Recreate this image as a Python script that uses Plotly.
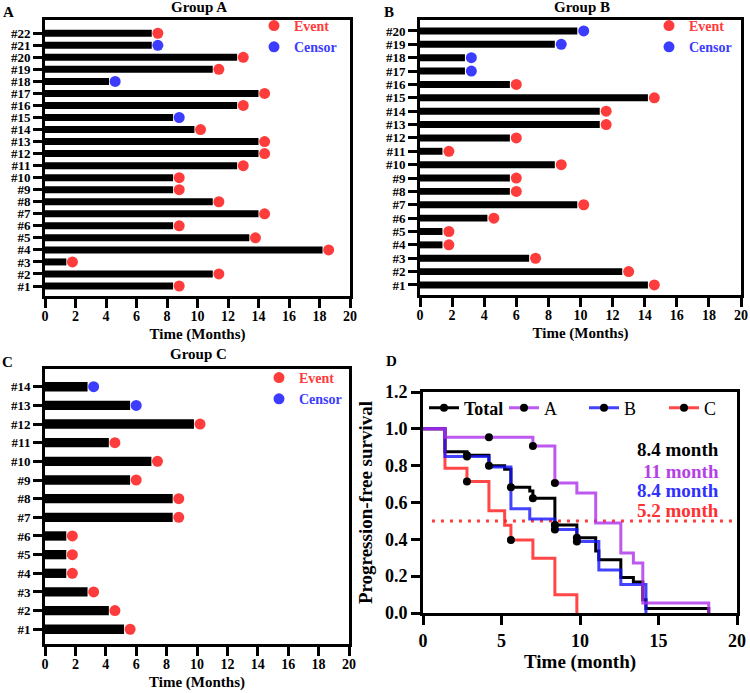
import plotly.graph_objects as go

# ---------------- data ----------------
# swimmer data, patient #1 .. #N ; EVENT: 1 = progression event, 0 = censored
A_TIME = [8.4, 11.0, 1.4, 18.2, 13.4, 8.4, 14.0, 11.0, 8.4, 8.4, 12.6,
          14.0, 14.0, 9.8, 8.4, 12.6, 14.0, 4.2, 11.0, 12.6, 7.0, 7.0]
A_EVENT = [1, 1, 1, 1, 1, 1, 1, 1, 1, 1, 1,
           1, 1, 1, 0, 1, 1, 0, 1, 1, 0, 1]
B_TIME = [14.2, 12.6, 6.8, 1.4, 1.4, 4.2, 9.8, 5.6, 5.6, 8.4,
          1.4, 5.6, 11.2, 11.2, 14.2, 5.6, 2.8, 2.8, 8.4, 9.8]
B_EVENT = [1, 1, 1, 1, 1, 1, 1, 1, 1, 1,
           1, 1, 1, 1, 1, 1, 0, 0, 0, 0]
C_TIME = [5.2, 4.2, 2.8, 1.4, 1.4, 1.4, 8.4, 8.4, 5.6, 7.0, 4.2, 9.8, 5.6, 2.8]
C_EVENT = [1, 1, 1, 1, 1, 1, 1, 1, 1, 1, 1, 1, 0, 0]

X_TICKS_SWIM = list(range(0, 21, 2))
X_TICKS_KM = [0, 5, 10, 15, 20]
Y_TICKS_KM = [0.0, 0.2, 0.4, 0.6, 0.8, 1.0, 1.2]
MEDIAN_LEVEL = 0.5

# ---------------- style ----------------
SERIF = "Liberation Serif"
RED = "#ff3c3c"
BLUE = "#3c3cff"
KM_COLORS = {"Total": "rgba(0,0,0,1)", "A": "rgba(172,48,235,0.8)",
             "B": "rgba(20,20,255,0.8)", "C": "rgba(255,25,25,0.8)"}
TEXT_COLORS = {"Total": "#000000", "A": "#b540e6", "B": "#3030ff", "C": "#ff3030"}
DOT_OFFSET = 0.4  # event dot sits just past the bar end (months)

W, H = 750, 693


def px_x(p):
    return p / W


def px_y(p):
    return 1 - p / H


def km(times, events):
    ts, ss, ct, cs = [0.0], [1.0], [], []
    s = 1.0
    for t in sorted(set(times)):
        d = sum(1 for ti, ei in zip(times, events) if ti == t and ei == 1)
        c = sum(1 for ti, ei in zip(times, events) if ti == t and ei == 0)
        n = sum(1 for ti in times if ti >= t)
        if d:
            s *= (n - d) / n
            ts.append(t)
            ss.append(s)
        if c:
            ct.append(t)
            cs.append(s)
    if ts[-1] < max(times):
        ts.append(max(times))
        ss.append(s)
    return ts, ss, ct, cs


def median_of(ts, ss):
    for t, s in zip(ts, ss):
        if s <= 0.5:
            return t
    return None


fig = go.Figure()

axis_common = dict(showline=True, linewidth=3, linecolor="black", mirror=True,
                   ticks="outside", ticklen=9, tickwidth=3, tickcolor="black",
                   showgrid=False, zeroline=False, automargin=False,
                   tickfont=dict(family=SERIF, size=14, color="black", weight="bold"))

swim = [
    (A_TIME, A_EVENT, "x", "y", "legend", 0.58, [px_x(45), px_x(350)], [px_y(296), px_y(20)], [0.17, 23.1]),
    (B_TIME, B_EVENT, "x2", "y2", "legend2", 0.52, [px_x(420), px_x(741)], [px_y(295), px_y(20)], [0.25, 20.82]),
    (C_TIME, C_EVENT, "x3", "y3", "legend3", 0.5, [px_x(45), px_x(349)], [px_y(644), px_y(369)], [0.21, 14.95]),
]

layout_axes = {}
for i, (times, events, xa, ya, lg, bw, xd, yd, yr) in enumerate(swim):
    ids = list(range(1, len(times) + 1))
    fig.add_trace(go.Bar(x=times, y=ids, orientation="h", width=bw,
                         marker=dict(color="black", line=dict(width=0)),
                         xaxis=xa, yaxis=ya, showlegend=False, hoverinfo="x+y"))
    ev_x = [t + DOT_OFFSET for t, e in zip(times, events) if e == 1]
    ev_y = [k for k, e in zip(ids, events) if e == 1]
    ce_x = [t + DOT_OFFSET for t, e in zip(times, events) if e == 0]
    ce_y = [k for k, e in zip(ids, events) if e == 0]
    fig.add_trace(go.Scatter(x=ev_x, y=ev_y, mode="markers", xaxis=xa, yaxis=ya,
                             marker=dict(color=RED, size=11), cliponaxis=False,
                             name=f"<span style='color:{RED}'>Event</span>", legend=lg))
    fig.add_trace(go.Scatter(x=ce_x, y=ce_y, mode="markers", xaxis=xa, yaxis=ya,
                             marker=dict(color=BLUE, size=11), cliponaxis=False,
                             name=f"<span style='color:{BLUE}'>Censor</span>", legend=lg))
    suffix = "" if i == 0 else str(i + 1)
    layout_axes["xaxis" + suffix] = dict(axis_common, domain=xd, range=[0, 20], tickvals=X_TICKS_SWIM,
                                         anchor=ya, ticklabelstandoff=-4,
                                         title=dict(text="Time (Months)", standoff=6,
                                                    font=dict(family=SERIF, size=15, color="black", weight="bold")))
    layout_axes["yaxis" + suffix] = dict(axis_common, domain=yd, range=yr, tickvals=ids,
                                         ticktext=[f"#{k}" for k in ids], anchor=xa,
                                         tickfont=dict(family=SERIF, size=13, color="black", weight="bold"))

# ---------------- Kaplan-Meier panel ----------------
groups = {"Total": (A_TIME + B_TIME + C_TIME, A_EVENT + B_EVENT + C_EVENT),
          "A": (A_TIME, A_EVENT), "B": (B_TIME, B_EVENT), "C": (C_TIME, C_EVENT)}
km_res = {k: km(*v) for k, v in groups.items()}

fig.add_shape(type="line", xref="x4", yref="y4", x0=0.57, x1=20, y0=MEDIAN_LEVEL, y1=MEDIAN_LEVEL,
              line=dict(color=RED, width=3, dash="3px,6px"), layer="below")

for k in ["Total", "C", "B", "A"]:
    ts, ss, _, _ = km_res[k]
    fig.add_trace(go.Scatter(x=ts, y=ss, mode="lines", line=dict(color=KM_COLORS[k], width=3, shape="hv"),
                             xaxis="x4", yaxis="y4", showlegend=False, cliponaxis=False))
for k in ["Total", "A", "B", "C"]:
    _, _, ct, cs = km_res[k]
    fig.add_trace(go.Scatter(x=ct, y=cs, mode="markers", marker=dict(color="black", size=8),
                             xaxis="x4", yaxis="y4", showlegend=False, cliponaxis=False))
# legend entries for KM panel
for k in ["Total", "A", "B", "C"]:
    fig.add_trace(go.Scatter(x=[None], y=[None], mode="lines+markers",
                             line=dict(color=KM_COLORS[k], width=3), marker=dict(color="black", size=8),
                             name=("<b>Total</b>" if k == "Total" else k), legend="legend4",
                             xaxis="x4", yaxis="y4"))

layout_axes["xaxis4"] = dict(axis_common, domain=[px_x(423), px_x(737)], range=[0, 20], tickvals=X_TICKS_KM,
                             anchor="y4", tickfont=dict(family=SERIF, size=18, color="black", weight="bold"),
                             title=dict(text="Time (month)", standoff=6,
                                        font=dict(family=SERIF, size=19, color="black", weight="bold")))
layout_axes["yaxis4"] = dict(axis_common, domain=[px_y(613), px_y(392)], range=[0, 1.2], tickvals=Y_TICKS_KM,
                             tickformat=".1f", anchor="x4",
                             tickfont=dict(family=SERIF, size=18, color="black", weight="bold"),
                             title=dict(text="Progression-free survival", standoff=8,
                                        font=dict(family=SERIF, size=19, color="black", weight="bold")))

annotations = []
# median labels
label_y = [0.886, 0.766, 0.663, 0.559]
for k, yv in zip(["Total", "A", "B", "C"], label_y):
    ts, ss, _, _ = km_res[k]
    m = median_of(ts, ss)
    annotations.append(dict(x=18.95, y=yv, xref="x4", yref="y4", xanchor="right", yanchor="middle",
                            text=f"{m:g} month", showarrow=False,
                            font=dict(family=SERIF, size=19, color=TEXT_COLORS[k], weight="bold")))
# panel letters and titles
for txt, x, y in [("A", 8, 12), ("B", 389, 12), ("C", 7, 362), ("D", 392, 361)]:
    annotations.append(dict(x=px_x(x), y=px_y(y), xref="paper", yref="paper", text=txt, showarrow=False,
                            xanchor="center", yanchor="middle",
                            font=dict(family=SERIF, size=15, color="black", weight="bold")))
for g, x, y in [("A", 199, 7), ("B", 582, 7), ("C", 198, 354)]:
    annotations.append(dict(x=px_x(x), y=px_y(y), xref="paper", yref="paper", text=f"Group {g}",
                            showarrow=False, xanchor="center", yanchor="middle",
                            font=dict(family=SERIF, size=15, color="black", weight="bold")))

leg_font = dict(family=SERIF, size=14, color="black", weight="bold")
fig.update_layout(
    template="none",
    width=W, height=H, margin=dict(l=0, r=0, t=0, b=0, autoexpand=False),
    paper_bgcolor="white", plot_bgcolor="white",
    annotations=annotations,
    legend=dict(x=px_x(254), y=px_y(10), xanchor="left", yanchor="top", font=leg_font,
                bgcolor="rgba(0,0,0,0)"),
    legend2=dict(x=px_x(649), y=px_y(10), xanchor="left", yanchor="top", font=leg_font,
                 bgcolor="rgba(0,0,0,0)"),
    legend3=dict(x=px_x(259), y=px_y(362), xanchor="left", yanchor="top", font=leg_font,
                 bgcolor="rgba(0,0,0,0)"),
    legend4=dict(x=px_x(424), y=px_y(408), xanchor="left", yanchor="middle", orientation="h",
                 entrywidth=35, font=dict(family=SERIF, size=18, color="black"),
                 bgcolor="rgba(0,0,0,0)"),
    **layout_axes,
)

# the page's default 8px body margin would shift the figure; remove it
fig.write_html("out.html", config={"displayModeBar": False},
               post_script="document.body.style.margin='0px';")
